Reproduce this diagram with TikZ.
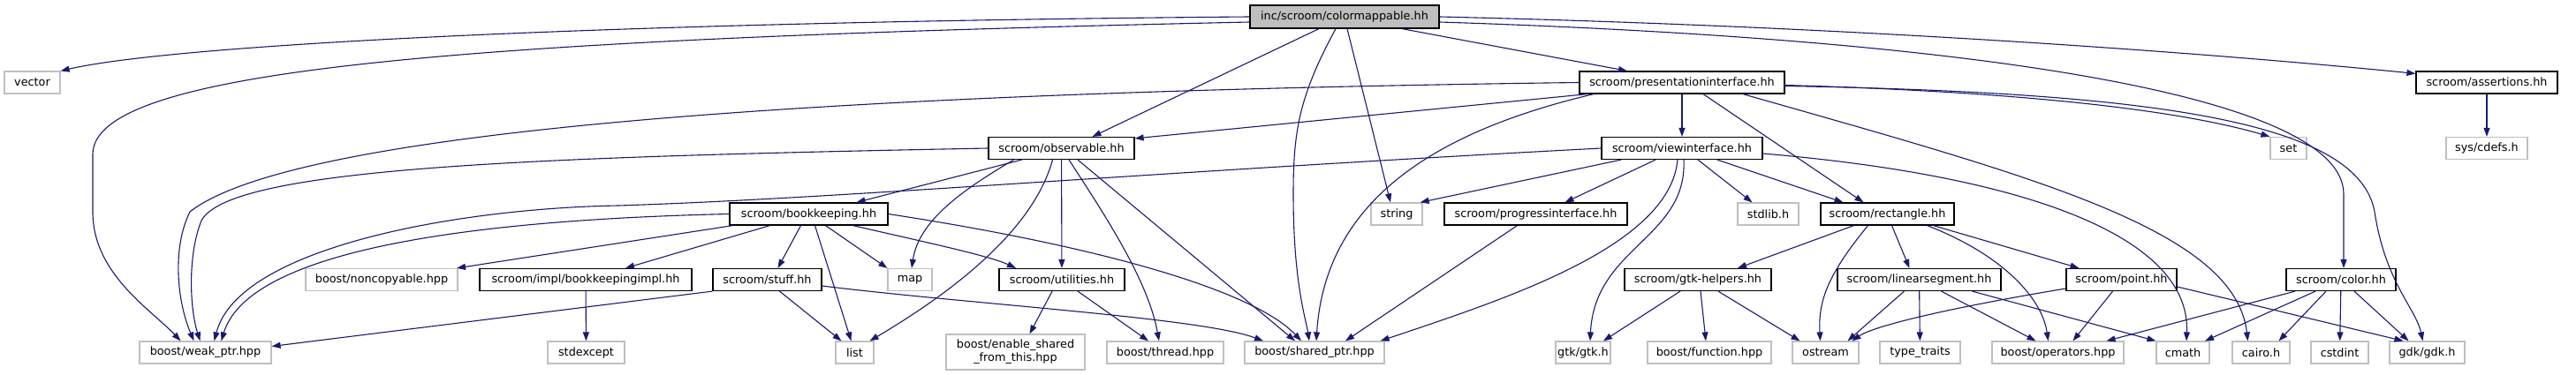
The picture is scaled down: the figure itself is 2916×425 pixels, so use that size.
\documentclass[tikz,border=0pt]{standalone}
\usepackage{fontspec}
\setmainfont{DejaVu Sans}
\usetikzlibrary{arrows.meta}
\definecolor{edgeblue}{HTML}{191970}
\definecolor{extgray}{HTML}{BFBFBF}
\definecolor{topgray}{HTML}{BFBFBF}
\tikzset{
  box/.style={draw, line width=1.2pt, inner sep=0pt, minimum height=25pt, fill=white,
    font=\fontsize{12.8}{15}\selectfont},
  doc/.style={box, draw=black},
  ext/.style={box, draw=extgray},
  topnode/.style={doc, fill=topgray, minimum height=26pt},
  dep/.style={draw=edgeblue, line width=1.1pt, -{Triangle[length=10pt,width=7pt]}},
}
\begin{document}
\begin{tikzpicture}[x=1pt,y=-1pt]
\useasboundingbox (0,0) rectangle (2916,425);
% row 0
\node[topnode, minimum width=214pt] (top) at (1522,19) {inc/scroom/colormappable.hh};
% row 1
\node[ext, minimum width=63pt] (vec) at (36.5,93.5) {vector};
\node[doc, minimum width=232pt] (pi) at (1904,93.5) {scroom/presentationinterface.hh};
\node[doc, minimum width=160pt] (as) at (2815,93.5) {scroom/assertions.hh};
% row 2
\node[doc, minimum width=165pt] (obs) at (1201.5,168) {scroom/observable.hh};
\node[doc, minimum width=182pt] (vi) at (1904,168) {scroom/viewinterface.hh};
\node[ext, minimum width=41pt] (set) at (2590.5,168) {set};
\node[ext, minimum width=92pt] (cdefs) at (2815,168) {sys/cdefs.h};
% row 3
\node[doc, minimum width=179pt] (bk) at (915.5,242.5) {scroom/bookkeeping.hh};
\node[ext, minimum width=58pt] (str) at (1581,242.5) {string};
\node[doc, minimum width=207pt] (prog) at (1738.5,242.5) {scroom/progressinterface.hh};
\node[ext, minimum width=69pt] (stdlib) at (2001.5,242.5) {stdlib.h};
\node[doc, minimum width=151pt] (rect) at (2136.5,242.5) {scroom/rectangle.hh};
% row 4
\node[ext, minimum width=172pt] (nonc) at (432,317) {boost/noncopyable.hpp};
\node[doc, minimum width=240pt] (bki) at (663,317) {scroom/impl/bookkeepingimpl.hh};
\node[doc, minimum width=123pt] (stuff) at (868.5,317) {scroom/stuff.hh};
\node[ext, minimum width=50pt] (map) at (1030,317) {map};
\node[doc, minimum width=142pt] (util) at (1202,317) {scroom/utilities.hh};
\node[doc, minimum width=166pt] (gtkh) at (1922,317) {scroom/gtk-helpers.hh};
\node[doc, minimum width=185pt] (lin) at (2172.5,317) {scroom/linearsegment.hh};
\node[doc, minimum width=125pt] (pt) at (2401.5,317) {scroom/point.hh};
\node[doc, minimum width=124pt] (col) at (2650,317) {scroom/color.hh};
% row 5
\node[ext, minimum width=149pt] (weak) at (232.5,399.5) {boost/weak\_ptr.hpp};
\node[ext, minimum width=87pt] (stdex) at (663.5,399.5) {stdexcept};
\node[ext, minimum width=43pt] (list) at (967.5,399.5) {list};
\node[ext, minimum width=157pt, minimum height=40pt, align=center] (esh) at (1149.5,399) {boost/enable\_shared\\\_from\_this.hpp};
\node[ext, minimum width=132pt] (thr) at (1319,399.5) {boost/thread.hpp};
\node[ext, minimum width=158pt] (shp) at (1488,399.5) {boost/shared\_ptr.hpp};
\node[ext, minimum width=62pt] (gtk) at (1792,399.5) {gtk/gtk.h};
\node[ext, minimum width=140pt] (fun) at (1935,399.5) {boost/function.hpp};
\node[ext, minimum width=75pt] (ost) at (2066.5,399.5) {ostream};
\node[ext, minimum width=91pt] (tt) at (2173.5,399.5) {type\_traits};
\node[ext, minimum width=149pt] (ops) at (2329.5,399.5) {boost/operators.hpp};
\node[ext, minimum width=60pt] (cmath) at (2471,399.5) {cmath};
\node[ext, minimum width=65pt] (cairo) at (2559.5,399.5) {cairo.h};
\node[ext, minimum width=65pt] (cstd) at (2648.5,399.5) {cstdint};
\node[ext, minimum width=85pt] (gdk) at (2747.5,399.5) {gdk/gdk.h};

% edges from top
\draw[dep] (top.west) .. controls (700,25) and (200,50) .. (vec.north east);
\draw[dep] ([yshift=-6pt]top.west) .. controls (500,45) and (105,80) .. (105,175) -- (105,240) .. controls (105,310) and (170,350) .. ([xshift=-28pt]weak.north);
\draw[dep] ([xshift=-29pt]top.south) -- ([xshift=35pt]obs.north);
\draw[dep] ([xshift=-10pt]top.south) .. controls (1470,110) and (1464,150) .. (1464,220) .. controls (1464,320) and (1478,360) .. ([xshift=-6pt]shp.north);
\draw[dep] ([xshift=3pt]top.south) -- ([xshift=-7pt]str.north);
\draw[dep] ([xshift=65pt]top.south) -- ([xshift=-62pt]pi.north);
\draw[dep] (top.east) .. controls (2100,30) and (2500,60) .. ([yshift=-3pt]as.north west);
\draw[dep] ([yshift=-6pt]top.east) .. controls (2250,45) and (2653,110) .. (2653,220) -- ([xshift=3pt]col.north);

% presentationinterface
\draw[dep] (pi.west) .. controls (900,105) and (330,150) .. (215,240) .. controls (195,280) and (200,340) .. ([xshift=-13pt]weak.north);
\draw[dep] ([xshift=-107pt]pi.south) -- ([yshift=-2pt]obs.north east);
\draw[dep] ([xshift=-100pt]pi.south) .. controls (1620,150) and (1500,230) .. ([xshift=2pt]shp.north);
\draw[dep] (pi) -- (vi);
\draw[dep] ([xshift=24pt]pi.south) -- ([xshift=-27pt]rect.north);
\draw[dep] ([xshift=69pt]pi.south) .. controls (2300,200) and (2530,260) .. ([xshift=-15pt]cairo.north);
\draw[dep] ([yshift=-3pt]pi.east) .. controls (2250,103) and (2450,120) .. (set.north west);
\draw[dep] ([yshift=-4pt]pi.east) .. controls (2450,105) and (2670,140) .. (2688,240) .. controls (2700,320) and (2735,350) .. ([xshift=-5pt]gdk.north);

% observable
\draw[dep] (obs.west) .. controls (600,178) and (260,190) .. (228,250) .. controls (212,290) and (215,350) .. ([xshift=-6pt]weak.north);
\draw[dep] ([xshift=-45pt]obs.south) -- ([xshift=54pt]bk.north);
\draw[dep] ([xshift=-54pt]obs.south) .. controls (1090,215) and (1040,250) .. ([xshift=2pt]map.north);
\draw[dep] ([xshift=-10pt]obs.south) .. controls (1170,260) and (1080,330) .. ([xshift=17pt]list.north);
\draw[dep] (obs) -- (util);
\draw[dep] ([xshift=8.5pt]obs.south) .. controls (1255,250) and (1300,320) .. ([xshift=-7pt]thr.north);
\draw[dep] ([xshift=18.5pt]obs.south) -- ([xshift=-22pt]shp.north);

% viewinterface
\draw[dep] (vi.west) .. controls (1300,195) and (950,225) .. (700,233) .. controls (520,236) and (270,280) .. ([xshift=10pt]weak.north);
\draw[dep] ([xshift=-69pt]vi.south) -- ([xshift=-3pt]str.north east);
\draw[dep] ([xshift=-30pt]vi.south) -- ([xshift=33pt]prog.north);
\draw[dep] ([xshift=-5pt]vi.south) .. controls (1890,280) and (1700,340) .. ([xshift=-5pt]shp.north east);
\draw[dep] ([xshift=2pt]vi.south) .. controls (1910,270) and (1805,280) .. ([xshift=8pt]gtk.north);
\draw[dep] ([xshift=18pt]vi.south) -- ([xshift=-18pt]stdlib.north);
\draw[dep] ([xshift=40pt]vi.south) -- ([xshift=-50pt]rect.north);
\draw[dep] ([yshift=-6pt]vi.east) .. controls (2300,200) and (2480,270) .. ([xshift=4pt]cmath.north);

% bookkeeping
\draw[dep] (bk.west) .. controls (500,250) and (280,290) .. ([xshift=18pt]weak.north);
\draw[dep] ([xshift=-86pt]bk.south) -- ([xshift=85pt]nonc.north);
\draw[dep] ([xshift=-44pt]bk.south) -- ([xshift=45pt]bki.north);
\draw[dep] ([xshift=-9pt]bk.south) -- ([xshift=12pt]stuff.north);
\draw[dep] ([xshift=7pt]bk.south) -- ([xshift=-4pt]list.north);
\draw[dep] ([xshift=19pt]bk.south) -- (map.north west);
\draw[dep] ([xshift=50pt]bk.south) .. controls (1050,275) and (1120,290) .. ([xshift=-52pt]util.north);
\draw[dep] (bk.east) .. controls (1250,280) and (1420,330) .. ([xshift=-15pt]shp.north);

% stuff
\draw[dep] (stuff.south west) -- ([yshift=7pt]weak.east);
\draw[dep] ([xshift=14pt]stuff.south) -- ([xshift=-15pt]list.north);
\draw[dep] ([yshift=-7pt]stuff.east) .. controls (1100,345) and (1360,360) .. ([xshift=-58pt]shp.north);

% others
\draw[dep] (bki) -- (stdex);
\draw[dep] ([xshift=-11pt]util.south) -- ([xshift=16pt]esh.north);
\draw[dep] ([xshift=18pt]util.south) -- ([xshift=-19pt]thr.north);
\draw[dep] ([xshift=-21pt]prog.south) -- ([xshift=35pt]shp.north);

% rectangle
\draw[dep] ([xshift=-38pt]rect.south) -- ([xshift=45pt]gtkh.north);
\draw[dep] ([xshift=-22pt]rect.south) .. controls (2070,310) and (2058,340) .. ([xshift=-6pt]ost.north);
\draw[dep] ([xshift=5pt]rect.south) -- ([xshift=-11pt]lin.north);
\draw[dep] ([xshift=45pt]rect.south) .. controls (2270,290) and (2312,340) .. ([xshift=-11pt]ops.north);
\draw[dep] ([xshift=52pt]rect.south) -- ([xshift=-48pt]pt.north);

% gtk-helpers
\draw[dep] ([xshift=-20pt]gtkh.south) -- ([xshift=23pt]gtk.north);
\draw[dep] ([xshift=3pt]gtkh.south) -- ([xshift=-4pt]fun.north);
\draw[dep] ([xshift=23pt]gtkh.south) -- ([xshift=-29pt]ost.north);

% linearsegment
\draw[dep] ([xshift=-17pt]lin.south) -- ([xshift=25pt]ost.north);
\draw[dep] (lin) -- (tt);
\draw[dep] ([xshift=25pt]lin.south) -- ([xshift=-25pt]ops.north);
\draw[dep] ([xshift=60pt]lin.south) -- (cmath.north west);

% point
\draw[dep] ([yshift=-10pt]pt.west) .. controls (2200,350) and (2120,370) .. ([xshift=30pt]ost.north);
\draw[dep] ([xshift=-10pt]pt.south) -- ([xshift=17pt]ops.north);
\draw[dep] ([yshift=-8pt]pt.east) -- ([xshift=-27pt]gdk.north);

% color
\draw[dep] ([xshift=-52pt]col.south) -- ([xshift=55pt]ops.north);
\draw[dep] ([xshift=-29pt]col.south) -- ([xshift=25pt]cmath.north);
\draw[dep] ([xshift=-17pt]col.south) -- ([xshift=20pt]cairo.north);
\draw[dep] (col) -- (cstd);
\draw[dep] ([xshift=15pt]col.south) -- ([xshift=-21pt]gdk.north);

% assertions
\draw[dep] (as) -- (cdefs);
\end{tikzpicture}
\end{document}
